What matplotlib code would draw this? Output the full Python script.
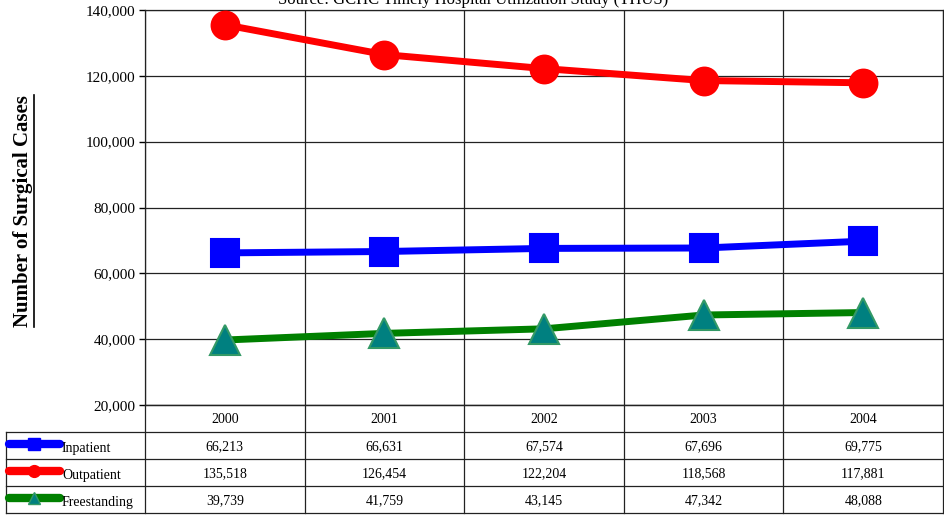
import matplotlib
matplotlib.use("Agg")
import matplotlib.pyplot as plt
from matplotlib.lines import Line2D
from matplotlib.ticker import FuncFormatter, MultipleLocator

years = ["2000", "2001", "2002", "2003", "2004"]
series_names = ["Inpatient", "Outpatient", "Freestanding"]
inpatient = [66213, 66631, 67574, 67696, 69775]
outpatient = [135518, 126454, 122204, 118568, 117881]
freestanding = [39739, 41759, 43145, 47342, 48088]
title = "Source: GCHC Timely Hospital Utilization Study (THUS)"
ylabel = "Number of Surgical Cases"

plt.rcParams['font.family'] = ['Liberation Serif', 'DejaVu Serif']

W, H = 944, 516
fig = plt.figure(figsize=(W / 100, H / 100), dpi=100)

def fx(px):
    return px / W

def fy(py):
    return 1 - py / H

L, R, T, B = 145, 943, 10, 405
ax = fig.add_axes([fx(L), fy(B), fx(R) - fx(L), fy(T) - fy(B)])
ax.set_xlim(-0.5, 4.5)
ax.set_ylim(20000, 140000)
ax.yaxis.set_major_locator(MultipleLocator(20000))
ax.yaxis.set_major_formatter(FuncFormatter(lambda v, p: f"{int(v):,}"))
ax.set_xticks([])
ax.tick_params(axis='y', direction='out', length=4, width=1, labelsize=11, pad=3)
for v in range(20000, 140001, 20000):
    ax.axhline(v, color='#222222', lw=0.9, zorder=1)
for i in range(6):
    ax.axvline(i - 0.5, color='#222222', lw=0.9, zorder=1)
for s in ax.spines.values():
    s.set_linewidth(0.9)
    s.set_color('#222222')

xs = list(range(len(years)))
styles = [
    (inpatient, '#0000FF', 's', '#0000FF', '#0000FF', 20.5),
    (outpatient, '#FF0000', 'o', '#FF0000', '#FF0000', 20),
    (freestanding, '#008000', '^', '#008080', '#339966', 21),
]
for vals, lc, mk, mfc, mec, ms in styles:
    ax.plot(xs, vals, color=lc, lw=5, marker=mk, markersize=ms,
            markerfacecolor=mfc, markeredgecolor=mec, markeredgewidth=1.5,
            zorder=3, clip_on=False)

fig.text(fx(473), fy(4), title, ha='center', va='baseline', fontsize=12)

# y label
yl = fig.text(fx(23), fy(211), ylabel, rotation=90, ha='center', va='center',
              fontsize=15, fontweight='bold')

# data table
tab = fig.add_axes([fx(L), fy(513), fx(R) - fx(L), fy(B) - fy(513)])
tab.set_xlim(-0.5, 4.5)
tab.set_ylim(4, 0)
tab.axis('off')
x_left = -0.5 - (L - 6) / ((R - L) / 5)
lkw = dict(color='#222222', lw=0.9, clip_on=False)
tab.plot([-0.5, 4.5], [0, 0], **lkw)
for r in range(1, 5):
    tab.plot([x_left, 4.5], [r, r], **lkw)
for i in range(6):
    tab.plot([i - 0.5, i - 0.5], [0, 4], **lkw)
tab.plot([x_left, x_left], [1, 4], **lkw)

for i, y in enumerate(years):
    tab.text(i, 0.55, y, ha='center', va='center', fontsize=10)
all_vals = [inpatient, outpatient, freestanding]
for r, vals in enumerate(all_vals):
    for i, v in enumerate(vals):
        tab.text(i, r + 1.55, f"{v:,}", ha='center', va='center', fontsize=10)

key_w = (62 - 6) / ((R - L) / 5)
for r, (name, st) in enumerate(zip(series_names, styles)):
    _, lc, mk, mfc, mec, _ = st
    yc = r + 1.45
    tab.plot([x_left + 0.02, x_left + key_w - 0.01], [yc, yc], color=lc, lw=6,
             solid_capstyle='round', clip_on=False)
    tab.plot([x_left + key_w / 2], [yc], marker=mk, markersize=8.5,
             markerfacecolor=mfc, markeredgecolor=mec, clip_on=False)
    tab.text(x_left + key_w, r + 1.62, name, ha='left', va='center', fontsize=10)

# underline for y label
fig.canvas.draw()
bb = yl.get_window_extent()
x_ul = bb.x1 + 0.5
fig.add_artist(Line2D([x_ul / W, x_ul / W], [bb.y0 / H, bb.y1 / H],
                      transform=fig.transFigure, color='black', lw=1.2))

fig.savefig("out.png", dpi=100)
